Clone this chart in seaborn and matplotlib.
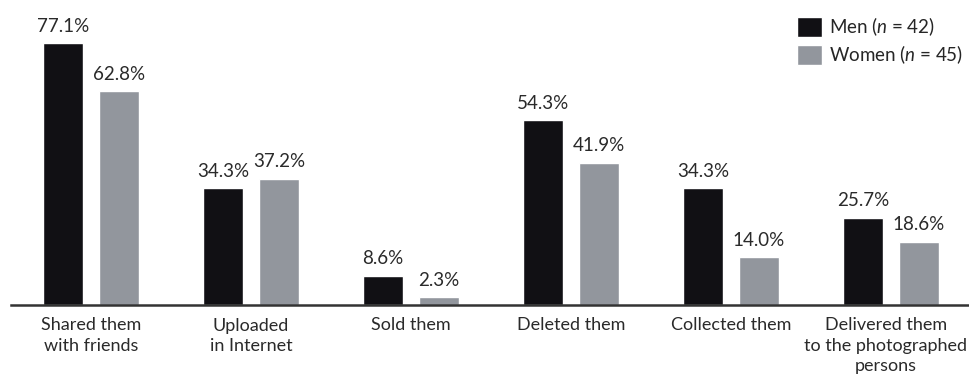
import numpy as np
import pandas as pd
import matplotlib
matplotlib.use('Agg')
import matplotlib.pyplot as plt
import matplotlib.transforms as mtrans
import seaborn as sns

categories = ['Shared them\nwith friends', 'Uploaded\nin Internet', 'Sold them',
              'Deleted them', 'Collected them',
              'Delivered them\nto the photographed\npersons']
men = [77.1, 34.3, 8.6, 54.3, 34.3, 25.7]
women = [62.8, 37.2, 2.3, 41.9, 14.0, 18.6]
groups = ['Men ($n$ = 42)', 'Women ($n$ = 45)']

sns.set_style('white')
plt.rcParams['font.family'] = ['Lato', 'DejaVu Sans']
plt.rcParams['mathtext.fontset'] = 'custom'
plt.rcParams['mathtext.rm'] = 'Lato'
plt.rcParams['mathtext.it'] = 'Lato:italic'

fs = 13.5
txt = '#2a2a2a'

df = pd.DataFrame({
    'cat': categories * 2,
    'val': men + women,
    'grp': [groups[0]] * len(men) + [groups[1]] * len(women),
})

fig = plt.figure(figsize=(9.7, 3.78), dpi=100)
ax = fig.add_axes([11 / 970, 1 - 305 / 378, 960 / 970, 305 / 378])

sns.barplot(data=df, x='cat', y='val', hue='grp', palette=['#111014', '#92969d'],
            width=0.7, gap=0.27, saturation=1, ax=ax)

for c in ax.containers:
    ax.bar_label(c, fmt='%.1f%%', padding=6, fontsize=fs, color=txt)

ax.set_xlim(-0.5, 5.5)
ax.set_ylim(0, 89.7)
ax.set_xlabel('')
ax.set_ylabel('')
ax.set_yticks([])
ax.tick_params(axis='x', length=0, pad=9, labelsize=13, labelcolor=txt)
for lbl in ax.get_xticklabels():
    lbl.set_linespacing(1.33)
# last label sits against the right edge, nudge it in a little
last = ax.get_xticklabels()[-1]
last.set_transform(last.get_transform() + mtrans.ScaledTranslation(-5 / 100, 0, fig.dpi_scale_trans))
for s in ['top', 'right', 'left']:
    ax.spines[s].set_visible(False)
ax.spines['bottom'].set_color('#333333')
ax.spines['bottom'].set_linewidth(1.8)

ax.legend(loc='upper right', bbox_to_anchor=(0.992, 0.95), frameon=False, fontsize=fs,
          handlelength=1.3, handleheight=1.3, handletextpad=0.4, labelspacing=0.3,
          borderaxespad=0, borderpad=0)

fig.savefig('out.png', dpi=100)
